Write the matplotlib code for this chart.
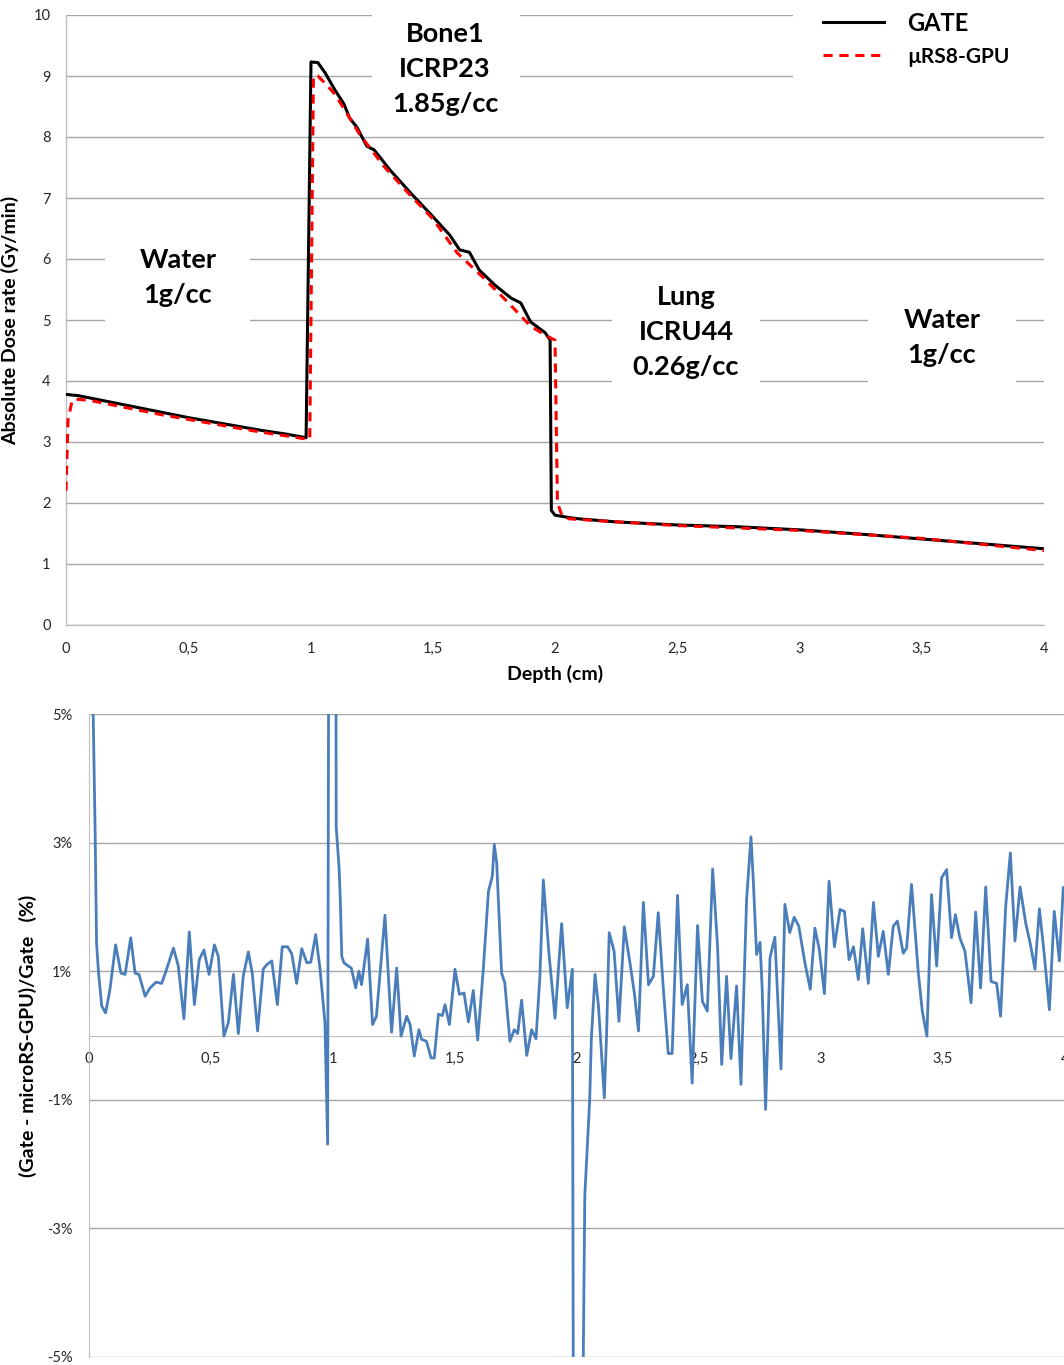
import matplotlib
matplotlib.use("Agg")
import matplotlib.pyplot as plt
from matplotlib.patches import Rectangle
from matplotlib.ticker import FixedLocator, FuncFormatter

plt.rcParams['font.family'] = ['Lato', 'DejaVu Sans']

# ---------------- data: top chart (dose profiles) ----------------
gate_x = [0, 0.05, 0.1, 0.2, 0.3, 0.4, 0.5, 0.6, 0.7, 0.8, 0.9, 0.982, 1.002, 1.03, 1.06,
          1.10, 1.137, 1.16, 1.19, 1.23, 1.26, 1.325, 1.41, 1.49, 1.57, 1.61, 1.65, 1.69,
          1.755, 1.82, 1.86, 1.90, 1.96, 1.98, 1.985, 2.0, 2.06, 2.1, 2.25, 2.5, 2.75,
          3.0, 3.25, 3.5, 3.75, 4.0]
gate_y = [3.78, 3.76, 3.72, 3.64, 3.56, 3.48, 3.40, 3.33, 3.26, 3.19, 3.13, 3.07, 9.23, 9.22, 9.05,
          8.77, 8.54, 8.31, 8.16, 7.85, 7.79, 7.46, 7.08, 6.74, 6.39, 6.15, 6.11, 5.82,
          5.57, 5.36, 5.28, 4.97, 4.79, 4.67, 1.88, 1.80, 1.76, 1.74, 1.69, 1.64, 1.61,
          1.56, 1.49, 1.41, 1.33, 1.25]

mrs_x = [0, 0.008, 0.025, 0.05, 0.1, 0.2, 0.3, 0.4, 0.5, 0.6, 0.7, 0.8, 0.9, 0.98, 0.997,
         1.012, 1.03, 1.06, 1.10, 1.15, 1.2, 1.3, 1.4, 1.5, 1.6, 1.7, 1.8, 1.9, 1.96, 2.0,
         2.01, 2.03, 2.06, 2.5, 3.0, 3.5, 4.0]
mrs_y = [2.2, 3.35, 3.68, 3.70, 3.68, 3.60, 3.52, 3.44, 3.37, 3.30, 3.23, 3.16, 3.10, 3.05, 3.05,
         9.0, 9.0, 8.88, 8.70, 8.38, 8.05, 7.52, 7.08, 6.66, 6.10, 5.72, 5.32, 4.90, 4.75, 4.67,
         2.0, 1.78, 1.74, 1.63, 1.55, 1.42, 1.22]

top_xticks = [0, 0.5, 1, 1.5, 2, 2.5, 3, 3.5, 4]
top_xlabels = ['0', '0,5', '1', '1,5', '2', '2,5', '3', '3,5', '4']
top_yticks = list(range(0, 11))

# ---------------- data: bottom chart (relative difference, %) ----------------
diff_x = [0.005, 0.015, 0.025, 0.031, 0.038, 0.052, 0.068, 0.086, 0.109, 0.131, 0.148, 0.171,
          0.189, 0.205, 0.230, 0.250, 0.275, 0.298, 0.318, 0.346, 0.366, 0.389, 0.411, 0.432,
          0.452, 0.471, 0.492, 0.514, 0.530, 0.553, 0.571, 0.592, 0.612, 0.632, 0.653, 0.669,
          0.691, 0.714, 0.728, 0.749, 0.772, 0.792, 0.814, 0.831, 0.851, 0.872, 0.893, 0.909,
          0.929, 0.947, 0.967, 0.978, 0.990, 1.008, 1.013, 1.025, 1.030, 1.036, 1.045, 1.063,
          1.075, 1.093, 1.106, 1.117, 1.142, 1.162, 1.178, 1.213, 1.240, 1.261, 1.279, 1.302,
          1.316, 1.333, 1.352, 1.363, 1.383, 1.402, 1.415, 1.432, 1.448, 1.459, 1.477, 1.500,
          1.518, 1.537, 1.555, 1.575, 1.593, 1.616, 1.637, 1.653, 1.661, 1.671, 1.691, 1.704,
          1.725, 1.743, 1.757, 1.773, 1.794, 1.814, 1.832, 1.848, 1.862, 1.885, 1.910, 1.937,
          1.960, 1.981, 1.987, 2.020, 2.026, 2.032, 2.052, 2.059, 2.074, 2.088, 2.112, 2.121,
          2.132, 2.152, 2.172, 2.194, 2.217, 2.235, 2.252, 2.272, 2.293, 2.313, 2.333, 2.354,
          2.374, 2.390, 2.412, 2.431, 2.452, 2.472, 2.494, 2.514, 2.534, 2.556, 2.576, 2.593,
          2.613, 2.631, 2.654, 2.672, 2.695, 2.713, 2.723, 2.736, 2.750, 2.759, 2.773, 2.791,
          2.811, 2.836, 2.852, 2.872, 2.890, 2.909, 2.934, 2.956, 2.975, 2.993, 3.014, 3.033,
          3.055, 3.078, 3.096, 3.115, 3.133, 3.153, 3.171, 3.194, 3.215, 3.235, 3.255, 3.276,
          3.296, 3.313, 3.337, 3.351, 3.371, 3.399, 3.415, 3.434, 3.453, 3.474, 3.494, 3.515,
          3.535, 3.551, 3.569, 3.590, 3.615, 3.634, 3.654, 3.675, 3.697, 3.720, 3.736, 3.757,
          3.776, 3.795, 3.816, 3.839, 3.857, 3.877, 3.895, 3.915, 3.936, 3.956, 3.977, 3.993]
diff_y = [12.0, 5.5, 3.2, 1.44, 1.03, 0.46, 0.35, 0.72, 1.41, 0.97, 0.95, 1.52,
          0.97, 0.95, 0.61, 0.74, 0.83, 0.81, 1.03, 1.36, 1.08, 0.26, 1.61, 0.48,
          1.18, 1.33, 0.95, 1.41, 1.23, -0.01, 0.20, 0.95, 0.03, 0.92, 1.30, 0.97,
          0.07, 1.03, 1.10, 1.16, 0.48, 1.38, 1.38, 1.27, 0.81, 1.35, 1.13, 1.14,
          1.57, 1.03, 0.20, -1.69, 20.0, 20.0, 3.25, 2.6, 2.1, 1.23, 1.13, 1.08,
          1.05, 0.74, 1.00, 0.79, 1.50, 0.17, 0.30, 1.87, 0.05, 1.05, -0.01, 0.30,
          0.17, -0.32, 0.09, -0.06, -0.09, -0.35, -0.35, 0.33, 0.31, 0.48, 0.17, 1.03,
          0.64, 0.66, 0.21, 0.70, -0.07, 1.03, 2.24, 2.48, 2.97, 2.68, 0.97, 0.82,
          -0.09, 0.09, 0.03, 0.55, -0.31, 0.09, -0.05, 0.92, 2.42, 1.28, 0.27, 1.74,
          0.43, 1.03, -9.0, -9.0, -4.9, -2.49, -1.0, -0.03, 0.95, 0.46, -0.97, 0.0,
          1.60, 1.31, 0.22, 1.69, 1.13, 0.66, 0.07, 2.07, 0.79, 0.92, 1.91, 0.72,
          -0.28, -0.28, 2.18, 0.48, 0.79, -0.74, 1.71, 0.53, 0.38, 2.59, 1.39, -0.45,
          0.92, -0.36, 0.77, -0.76, 2.11, 3.09, 2.37, 1.26, 1.45, 0.72, -1.15, 1.21,
          1.53, -0.52, 2.04, 1.60, 1.84, 1.70, 1.13, 0.72, 1.67, 1.34, 0.65, 2.40,
          1.38, 1.96, 1.93, 1.18, 1.38, 0.87, 1.66, 0.81, 2.07, 1.23, 1.62, 0.95,
          1.70, 1.78, 1.28, 1.36, 2.35, 0.97, 0.38, -0.01, 2.19, 1.08, 2.45, 2.58,
          1.52, 1.88, 1.52, 1.31, 0.51, 1.92, 0.74, 2.31, 0.84, 0.81, 0.30, 2.01,
          2.84, 1.47, 2.31, 1.75, 1.44, 1.03, 1.97, 1.26, 0.40, 1.93, 1.16, 2.30]

bot_yticks = [-5, -3, -1, 1, 3, 5]

# ---------------- figure ----------------
W, H = 1064, 1365
fig = plt.figure(figsize=(W / 100, H / 100), dpi=100)
fig.patch.set_facecolor('white')

def px_axes(left, top, right, bottom):
    return fig.add_axes([left / W, 1 - bottom / H, (right - left) / W, (bottom - top) / H])

grid_c = '#a6a6a6'
tick_c = '#262626'

# ======== top chart ========
ax = px_axes(66, 15, 1044, 625)
ax.set_xlim(0, 4)
ax.set_ylim(0, 10)
ax.set_axisbelow(True)
ax.yaxis.grid(True, color=grid_c, lw=1.0)
for s in ['top', 'right']:
    ax.spines[s].set_visible(False)
for s in ['left', 'bottom']:
    ax.spines[s].set_color('#bfbfbf')
    ax.spines[s].set_linewidth(1.0)
ax.set_xticks(top_xticks)
ax.set_xticklabels(top_xlabels)
ax.set_yticks(top_yticks)
ax.tick_params(length=0, labelsize=10.5, colors=tick_c, pad=12)
ax.tick_params(axis='y', pad=11)
ax.set_xlabel('Depth (cm)', fontsize=14, fontweight='bold', labelpad=7)
ax.set_ylabel('Absolute Dose rate (Gy/min)', fontsize=14, fontweight='bold')
ax.yaxis.set_label_coords((19 - 66) / 978, 0.5)

ln_gate, = ax.plot(gate_x, gate_y, color='black', lw=2.2, zorder=3, label='GATE')
ln_mrs, = ax.plot(mrs_x, mrs_y, color='#ff0000', lw=2.2, ls=(0, (3.0, 2.2)), zorder=4,
                  label='\u00b5RS8-GPU')

# white boxes behind the labels (break the gridlines like in the original)
def white_box(x0, x1, y0, y1):
    ax.add_patch(Rectangle((x0, y0), x1 - x0, y1 - y0, facecolor='white', edgecolor='none',
                           zorder=1, clip_on=False))

white_box(0.16, 0.753, 4.75, 6.31)
white_box(1.252, 1.857, 8.2, 10.25)
white_box(2.233, 2.838, 3.85, 5.66)
white_box(3.28, 3.885, 3.85, 5.33)
white_box(2.973, 4.1, 8.6, 10.25)

txt_kw = dict(ha='center', va='center', fontsize=19.5, fontweight='bold', linespacing=1.55,
              color='black', zorder=5)
ax.text(0.458, 5.69, 'Water\n1g/cc', **txt_kw)
ax.text(1.55, 9.11, 'Bone1\nICRP23\n1.85g/cc', **txt_kw)
ax.text(2.536, 4.80, 'Lung\nICRU44\n0.26g/cc', **txt_kw)
ax.text(3.583, 4.72, 'Water\n1g/cc', **txt_kw)

leg = ax.legend(handles=[ln_gate, ln_mrs], loc='upper left',
                bbox_to_anchor=(806 / W, 1 + 5 / H), bbox_transform=fig.transFigure,
                frameon=False, fontsize=17, handlelength=2.6, handletextpad=1.0,
                labelspacing=0.5, borderpad=0.2,
                prop={'weight': 'bold', 'size': 17})
leg.get_texts()[1].set_fontsize(15)

# ======== bottom chart ========
bx = px_axes(89, 714, 1065, 1357)
bx.set_xlim(0, 4)
bx.set_ylim(-5, 5)
bx.set_axisbelow(True)
bx.yaxis.set_major_locator(FixedLocator(bot_yticks))
bx.yaxis.set_major_formatter(FuncFormatter(lambda v, p: f'{int(round(v))}%'))
bx.yaxis.grid(True, color=grid_c, lw=1.0)
for s in ['top', 'right']:
    bx.spines[s].set_visible(False)
bx.spines['left'].set_color('#bfbfbf')
bx.spines['bottom'].set_position(('data', 0))
bx.spines['bottom'].set_color('#bfbfbf')
bx.set_xticks(top_xticks)
bx.set_xticklabels(top_xlabels)
bx.tick_params(length=0, labelsize=10.5, colors=tick_c)
bx.tick_params(axis='x', pad=12)
bx.tick_params(axis='y', pad=12)
bx.set_ylabel('(Gate - microRS-GPU)/Gate   (%)', fontsize=14, fontweight='bold')
bx.yaxis.set_label_coords((37 - 89) / 976, 0.5)
bx.plot(diff_x, diff_y, color='#4a7ebb', lw=2.0, zorder=3)

fig.savefig('out.png', dpi=100, facecolor='white')
